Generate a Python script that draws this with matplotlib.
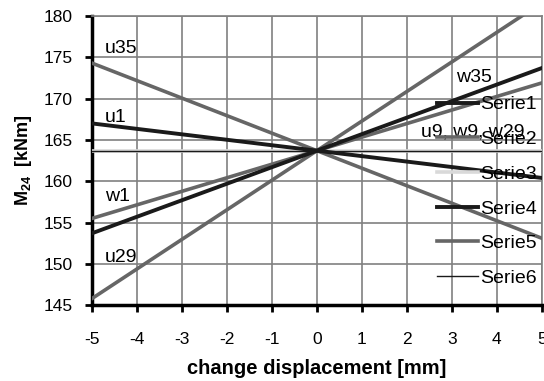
import matplotlib
matplotlib.use("Agg")
import matplotlib.pyplot as plt
import numpy as np

plt.rcParams['font.family'] = ['Liberation Sans', 'DejaVu Sans']
plt.rcParams['mathtext.fontset'] = 'custom'
plt.rcParams['mathtext.bf'] = 'Liberation Sans:bold'
plt.rcParams['mathtext.rm'] = 'Liberation Sans'
plt.rcParams['axes.unicode_minus'] = False

x = [-5, 5]
serie1 = [167.0, 160.4]   # u1
serie2 = [174.3, 153.1]   # u35
serie3 = [163.7, 163.7]
serie4 = [153.7, 173.7]   # w35
serie5 = [155.5, 171.9]   # w1
serie6 = [163.7, 163.7]   # u9, w9, w29
extra = [145.8, 181.6]    # u29
names = ["Serie1", "Serie2", "Serie3", "Serie4", "Serie5", "Serie6"]

fig = plt.figure(figsize=(5.44, 3.81), dpi=100)
ax = fig.add_axes([0.169, 0.199, 0.827, 0.759])

black = "#1a1a1a"
gray = "#666666"
ax.plot(x, extra, color=gray, lw=2.6, label="_nolegend_", zorder=3)
ax.plot(x, serie3, color="#d9d9d9", lw=2.6, label=names[2], zorder=3)
ax.plot(x, serie1, color=black, lw=2.8, label=names[0], zorder=4)
ax.plot(x, serie2, color=gray, lw=2.6, label=names[1], zorder=3)
ax.plot(x, serie4, color=black, lw=2.8, label=names[3], zorder=4)
ax.plot(x, serie5, color=gray, lw=2.6, label=names[4], zorder=3)
ax.plot(x, serie6, color=black, lw=1.0, label=names[5], zorder=4)

ax.set_xlim(-5, 5)
ax.set_ylim(145, 180)
ax.set_xticks(np.arange(-5, 6, 1))
ax.set_yticks(np.arange(145, 181, 5))
ax.grid(True, color="#808080", lw=1.2)
ax.set_axisbelow(True)
for s in ["top", "right"]:
    ax.spines[s].set_color("#808080")
    ax.spines[s].set_linewidth(1.2)
for s in ["left", "bottom"]:
    ax.spines[s].set_color("black")
    ax.spines[s].set_linewidth(2.5)
ax.tick_params(direction="out", length=5, width=2, labelsize=12.5, color="black")
ax.tick_params(axis="y", pad=9)
ax.tick_params(axis="x", pad=14)

ax.set_xlabel("change displacement [mm]", fontsize=14.5, fontweight="bold", labelpad=9)
ax.set_ylabel(r"$\mathbf{M_{24}}$  [kNm]", fontsize=13, fontweight="bold", labelpad=7)

fs = 14
ax.text(-4.72, 176.1, "u35", fontsize=fs, va="center")
ax.text(-4.72, 167.7, "u1", fontsize=fs, va="center")
ax.text(-4.72, 158.1, "w1", fontsize=fs, va="center")
ax.text(-4.72, 150.8, "u29", fontsize=fs, va="center")
ax.text(3.1, 172.5, "w35", fontsize=fs, va="center")
ax.text(2.32, 165.9, "u9, w9, w29", fontsize=fs, va="center")

handles, labels = ax.get_legend_handles_labels()
order = [labels.index(n) for n in names]
leg = ax.legend([handles[i] for i in order], [labels[i] for i in order],
                loc="upper right", bbox_to_anchor=(1.007, 0.751), frameon=False,
                fontsize=fs, handlelength=2.1, handletextpad=0.15,
                labelspacing=0.88, borderaxespad=0)
leg.set_zorder(5)

fig.savefig("out.png", dpi=100)
